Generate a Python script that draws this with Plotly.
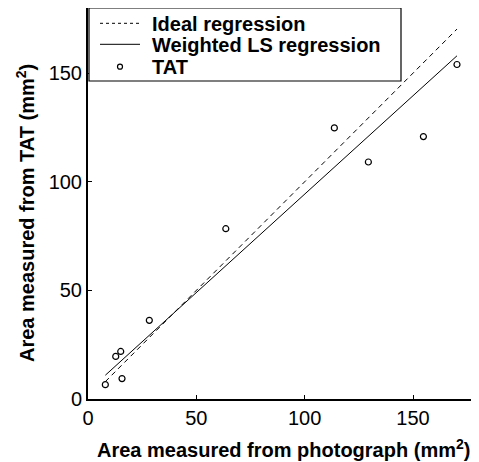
import plotly.graph_objects as go

# Data
photo_area = [8.0, 12.8, 15.1, 15.7, 28.3, 63.6, 113.7, 129.4, 154.8, 170.3]
tat_area = [6.6, 19.6, 21.9, 9.4, 36.2, 78.4, 124.8, 109.1, 120.8, 154.0]

wls_intercept = 3.7
wls_slope = 0.906

x_ticks = [0, 50, 100, 150]
y_ticks = [0, 50, 100, 150]

legend_labels = ["Ideal regression", "Weighted LS regression", "TAT"]

x_title = "Area measured from photograph (mm<sup>2</sup>)"
y_title = "Area measured from TAT (mm<sup>2</sup>)"

x_min, x_max = min(photo_area), max(photo_area)
line_x = [x_min, x_max]
ideal_y = [v for v in line_x]
wls_y = [wls_intercept + wls_slope * v for v in line_x]

FONT = "Liberation Sans, Arial, sans-serif"

# The page body has an 8px margin, so the figure is laid out 8px smaller
W, H = 471, 454
ML, MR, MT, MB = 80, 1, 0, 63
PW, PH = W - ML - MR, H - MT - MB
# plot area in page pixels
P_LEFT, P_BOTTOM = 88, 399


def px(xp):
    return (xp - P_LEFT) / PW


def py(yp):
    return (P_BOTTOM - yp) / PH


fig = go.Figure()
fig.add_trace(go.Scatter(
    x=line_x, y=ideal_y, mode="lines", name=legend_labels[0],
    line=dict(color="black", width=1, dash="5px,4px"),
))
fig.add_trace(go.Scatter(
    x=line_x, y=wls_y, mode="lines", name=legend_labels[1],
    line=dict(color="black", width=1),
))
fig.add_trace(go.Scatter(
    x=photo_area, y=tat_area, mode="markers", name=legend_labels[2],
    marker=dict(symbol="circle-open", size=6, color="black",
                line=dict(width=1.2, color="black")),
))

# Legend drawn as a boxed key in the upper left
shapes = [
    dict(type="rect", xref="paper", yref="paper",
         x0=px(89), x1=px(401), y0=py(81), y1=1,
         line=dict(color="black", width=1.2), fillcolor="white", layer="above"),
    dict(type="line", xref="paper", yref="paper",
         x0=px(100), x1=px(140), y0=py(23.3), y1=py(23.3),
         line=dict(color="black", width=1, dash="3px,3px")),
    dict(type="line", xref="paper", yref="paper",
         x0=px(100), x1=px(140), y0=py(44.3), y1=py(44.3),
         line=dict(color="black", width=1)),
    dict(type="circle", xref="paper", yref="paper",
         xsizemode="pixel", ysizemode="pixel",
         xanchor=px(120), yanchor=py(66.7),
         x0=-2.5, x1=2.5, y0=-2.5, y1=2.5,
         line=dict(color="black", width=1.2)),
]
annotations = []
for lab, yy in zip(legend_labels, [24, 45, 67]):
    annotations.append(dict(
        text=lab, xref="paper", yref="paper", x=px(150), y=py(yy),
        xanchor="left", yanchor="middle", showarrow=False,
        font=dict(family=FONT, size=20, color="black", weight="bold"),
    ))
annotations.append(dict(
    text=x_title, xref="paper", yref="paper", x=px(283), y=py(448),
    xanchor="center", yanchor="middle", showarrow=False,
    font=dict(family=FONT, size=20, color="black", weight="bold"),
))
annotations.append(dict(
    text=y_title, xref="paper", yref="paper", x=px(25), y=py(213),
    xanchor="center", yanchor="middle", showarrow=False, textangle=-90,
    font=dict(family=FONT, size=20, color="black", weight="bold"),
))

fig.update_layout(
    width=W, height=H,
    margin=dict(l=ML, r=MR, t=MT, b=MB, autoexpand=False),
    paper_bgcolor="white", plot_bgcolor="white",
    font=dict(family=FONT, color="black", size=20),
    showlegend=False,
    shapes=shapes,
    annotations=annotations,
)
fig.update_xaxes(
    range=[0, 180], tickvals=x_ticks, ticktext=[str(v) for v in x_ticks],
    showgrid=False, zeroline=False, automargin=False,
    showline=True, linecolor="black", linewidth=2, mirror=True,
    ticks="inside", ticklen=4, tickcolor="black", tickwidth=1,
    tickfont=dict(family=FONT, size=20, color="black"),
)
fig.update_yaxes(
    range=[0, 180], tickvals=y_ticks, ticktext=[str(v) for v in y_ticks],
    showgrid=False, zeroline=False, automargin=False,
    showline=True, linecolor="black", linewidth=2, mirror=False,
    ticks="inside", ticklen=4, tickcolor="black", tickwidth=1,
    tickfont=dict(family=FONT, size=20, color="black"),
)

fig.write_html("out.html")
